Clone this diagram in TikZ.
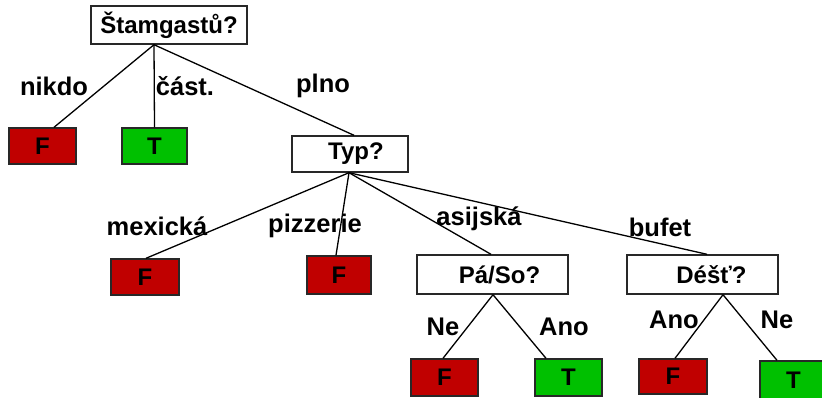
\documentclass[tikz,border=0pt]{standalone}
\usepackage{fontspec}
\setmainfont{Liberation Sans}
\definecolor{leafred}{RGB}{192,0,0}
\definecolor{leafgreen}{RGB}{0,192,0}
\definecolor{edgegray}{RGB}{40,40,40}
\begin{document}
\begin{tikzpicture}[x=1pt,y=-1pt,
  every node/.style={font=\fontsize{24}{28}\selectfont\bfseries, inner sep=0pt},
  qbox/.style={draw=edgegray, line width=1.4pt, fill=white, rectangle, minimum height=38pt},
  fbox/.style={draw=edgegray, line width=1.4pt, fill=leafred, rectangle, minimum width=67pt, minimum height=36pt},
  tbox/.style={draw=edgegray, line width=1.4pt, fill=leafgreen, rectangle, minimum width=67pt, minimum height=36pt},
  edge/.style={draw=black, line width=1.3pt},
  lbl/.style={anchor=center, font=\fontsize{25.5}{30}\selectfont\bfseries}]
\useasboundingbox (0,0) rectangle (822,397);
% nodes
\node[qbox, minimum width=156pt] (s) at (169,25) {Štamgastů?};
\node[fbox] (f1) at (42.5,146) {F};
\node[tbox, minimum width=65pt] (t1) at (154.5,146) {T};
\node[qbox, minimum width=116pt, minimum height=36pt] (typ) at (350,154) {\hspace*{12pt}Typ?};
\node[fbox, minimum width=68pt] (f2) at (145,277) {F};
\node[fbox, minimum width=64pt, minimum height=38pt] (f3) at (339,275) {F};
\node[qbox, minimum width=151pt, minimum height=39pt] (pa) at (492.5,274.5) {\hspace*{14pt}Pá/So?};
\node[qbox, minimum width=151pt, minimum height=39pt] (de) at (702.5,274.5) {\hspace*{18pt}Déšť?};
\node[fbox, minimum height=37pt] (f4) at (444.5,377.5) {F};
\node[tbox, minimum height=37pt] (t4) at (568.5,377.5) {T};
\node[fbox, minimum width=68pt, minimum height=35pt] (f5) at (673,376.5) {F};
\node[tbox, minimum height=38pt] (t5) at (793.5,380) {T};
% edges
\draw[edge] ([xshift=-15pt]s.south) -- ([xshift=11.5pt]f1.north);
\draw[edge] ([xshift=-15pt]s.south) -- (t1.north);
\draw[edge] ([xshift=-15pt]s.south) -- ([xshift=4pt]typ.north);
\draw[edge] ([xshift=-1pt]typ.south) -- ([xshift=1pt]f2.north);
\draw[edge] ([xshift=-1pt]typ.south) -- ([xshift=-3pt]f3.north);
\draw[edge] ([xshift=-1pt]typ.south) -- ([xshift=-1.5pt]pa.north);
\draw[edge] ([xshift=-1pt]typ.south) -- ([xshift=4.5pt]de.north);
\draw[edge] ([xshift=0.5pt]pa.south) -- ([xshift=-1.5pt]f4.north);
\draw[edge] ([xshift=0.5pt]pa.south) -- ([xshift=-22.5pt]t4.north);
\draw[edge] ([xshift=20.5pt]de.south) -- ([xshift=2pt]f5.north);
\draw[edge] ([xshift=20.5pt]de.south) -- ([xshift=-16.5pt]t5.north);
% labels
\node[lbl] (l1) at (54,86) {nikdo};
\node[lbl] (l2) at (185,86) {část.};
\node[lbl] (l3) at (323,86) {plno};
\node[lbl] (l4) at (157,226) {mexická};
\node[lbl] (l5) at (315,226) {pizzerie};
\node[lbl] (l6) at (479,219) {asijská};
\node[lbl] (l7) at (660,227) {bufet};
\node[lbl] (l8) at (443,327) {Ne};
\node[lbl] (l9) at (564,327) {Ano};
\node[lbl] (l10) at (674,320) {Ano};
\node[lbl] (l11) at (777,320) {Ne};
\end{tikzpicture}
\end{document}
